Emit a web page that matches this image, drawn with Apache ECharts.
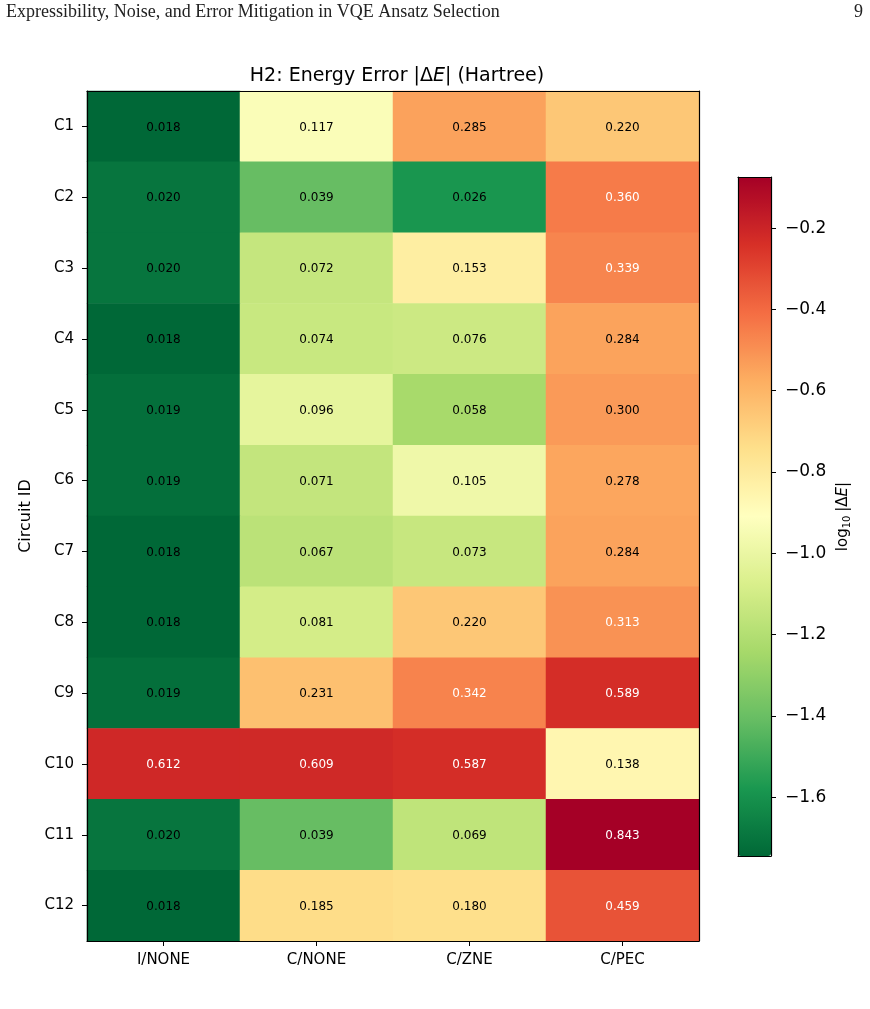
<!DOCTYPE html>
<html>
<head>
<meta charset="utf-8">
<script src="https://cdn.jsdelivr.net/npm/echarts@6/dist/echarts.min.js"></script>
<style>
  html, body { margin: 0; padding: 0; background: #fff; }
  #chart { width: 870px; height: 1009px; }
</style>
</head>
<body>
<div id="chart"></div>
<script>
const methods = ['I/NONE', 'C/NONE', 'C/ZNE', 'C/PEC']
const circuits = ['C1', 'C2', 'C3', 'C4', 'C5', 'C6', 'C7', 'C8', 'C9', 'C10', 'C11', 'C12']
// one row per circuit, columns follow methods
const errors = [
  [0.018, 0.117, 0.285, 0.220],
  [0.020, 0.039, 0.026, 0.360],
  [0.020, 0.072, 0.153, 0.339],
  [0.018, 0.074, 0.076, 0.284],
  [0.019, 0.096, 0.058, 0.300],
  [0.019, 0.071, 0.105, 0.278],
  [0.018, 0.067, 0.073, 0.284],
  [0.018, 0.081, 0.220, 0.313],
  [0.019, 0.231, 0.342, 0.589],
  [0.612, 0.609, 0.587, 0.138],
  [0.020, 0.039, 0.069, 0.843],
  [0.018, 0.185, 0.180, 0.459]
]
const cbarTicks = [-0.2, -0.4, -0.6, -0.8, -1.0, -1.2, -1.4, -1.6]

// RdYlGn reversed: low = green, high = red
const rdYlGnR = ['#006837', '#1a9850', '#66bd63', '#a6d96a', '#d9ef8b', '#ffffbf',
  '#fee08b', '#fdae61', '#f46d43', '#d73027', '#a50026']

const flat = errors.flat()
const logMin = Math.log10(Math.min(...flat))
const logMax = Math.log10(Math.max(...flat))

const cells = []
errors.forEach((row, i) => {
  row.forEach((v, j) => {
    cells.push({
      value: [j, i, Math.log10(v), v],
      label: { color: v > 0.305 ? '#fff' : '#000' }
    })
  })
})

const fmtMinus = v => (v < 0 ? '\u2212' : '') + Math.abs(v).toFixed(1)
const font = 'DejaVu Sans'
const frame = { show: true, onZero: false, lineStyle: { color: '#000', width: 1.2 } }
const tick = { show: true, alignWithLabel: true, length: 5, lineStyle: { color: '#000', width: 1 } }

const chart = echarts.init(document.getElementById('chart'))
chart.setOption({
  animation: false,
  textStyle: { fontFamily: font },
  graphic: [
    { type: 'text', left: 6, top: 3, style: { text: 'Expressibility, Noise, and Error Mitigation in VQE Ansatz Selection', font: '18px "Liberation Serif"', fill: '#222' } },
    { type: 'text', right: 7, top: 3, style: { text: '9', font: '18px "Liberation Serif"', fill: '#222' } }
  ],
  title: {
    text: 'H2: Energy Error |Δ{i|E}| (Hartree)',
    left: 392,
    textAlign: 'center',
    top: 62,
    textStyle: {
      fontFamily: font, fontSize: 19, fontWeight: 'normal', color: '#000',
      rich: { i: { fontFamily: font, fontSize: 19, fontStyle: 'italic', color: '#000' } }
    }
  },
  grid: [
    { left: 87, top: 91, width: 612, height: 850 },
    { left: 738, top: 177, width: 33, height: 679 }
  ],
  xAxis: [
    {
      type: 'category', gridIndex: 0, data: methods, position: 'bottom', z: 10,
      axisLine: frame, axisTick: tick,
      axisLabel: { fontSize: 15, color: '#000', margin: 12 },
      splitLine: { show: false }
    },
    {
      type: 'category', gridIndex: 0, data: methods, position: 'top', z: 10,
      axisLine: frame, axisTick: { show: false }, axisLabel: { show: false }
    },
    {
      type: 'value', gridIndex: 1, position: 'bottom', z: 10,
      axisLine: frame, axisTick: { show: false }, axisLabel: { show: false }, splitLine: { show: false }
    },
    {
      type: 'value', gridIndex: 1, position: 'top', z: 10,
      axisLine: frame, axisTick: { show: false }, axisLabel: { show: false }, splitLine: { show: false }
    }
  ],
  yAxis: [
    {
      type: 'category', gridIndex: 0, data: circuits, inverse: true, position: 'left', z: 10,
      axisLine: frame, axisTick: tick,
      axisLabel: { fontSize: 15, color: '#000', margin: 13, padding: [4, 0, 0, 0] },
      name: 'Circuit ID', nameLocation: 'middle', nameGap: 52, nameRotate: 90,
      nameTextStyle: { fontSize: 16, color: '#000', fontFamily: font }
    },
    {
      type: 'category', gridIndex: 0, data: circuits, inverse: true, position: 'right', z: 10,
      axisLine: frame, axisTick: { show: false }, axisLabel: { show: false }
    },
    {
      type: 'value', gridIndex: 1, position: 'left', z: 10, min: logMin, max: logMax,
      axisLine: frame, axisTick: { show: false }, axisLabel: { show: false }, splitLine: { show: false }
    },
    {
      type: 'value', gridIndex: 1, position: 'right', z: 10, min: logMin, max: logMax,
      axisLine: frame,
      axisTick: { show: true, length: 5, customValues: cbarTicks, lineStyle: { color: '#000', width: 1 } },
      axisLabel: { fontSize: 17, color: '#000', margin: 14, customValues: cbarTicks, formatter: fmtMinus },
      splitLine: { show: false },
      name: '{n|log}{s|10} {n||Δ}{i|E}{n||}', nameLocation: 'middle', nameGap: 63, nameRotate: 90,
      nameTextStyle: {
        rich: {
          n: { fontSize: 15, fontFamily: font, color: '#000' },
          s: { fontSize: 10, fontFamily: font, color: '#000', verticalAlign: 'bottom', padding: [8, 0, 0, 0] },
          i: { fontSize: 15, fontFamily: font, fontStyle: 'italic', color: '#000' }
        }
      }
    }
  ],
  visualMap: {
    type: 'continuous',
    dimension: 2,
    seriesIndex: 0,
    min: logMin,
    max: logMax,
    calculable: false,
    orient: 'vertical',
    left: 738,
    top: 177,
    itemWidth: 33,
    itemHeight: 679,
    padding: 0,
    text: ['', ''],
    z: 1,
    inRange: { color: rdYlGnR }
  },
  series: [{
    type: 'heatmap',
    xAxisIndex: 0,
    yAxisIndex: 0,
    data: cells,
    label: {
      show: true,
      fontSize: 12,
      fontFamily: font,
      offset: [0, 1],
      formatter: p => p.value[3].toFixed(3)
    },
    itemStyle: { borderWidth: 0 },
    emphasis: { disabled: true }
  }]
})
</script>
</body>
</html>
